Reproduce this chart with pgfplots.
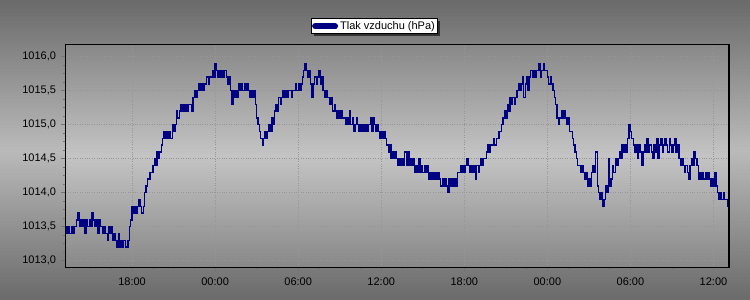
\documentclass[border=0pt]{standalone}
\usepackage{fontspec}
\setmainfont{Liberation Sans}
\usepackage{pgfplots}
\pgfplotsset{compat=1.18}
\usetikzlibrary{shadows}
\definecolor{navyline}{RGB}{0,0,130}
\definecolor{bgtop}{RGB}{106,106,106}
\definecolor{bgmid}{RGB}{186,186,186}
\definecolor{patop}{RGB}{136,136,136}
\definecolor{pamid}{RGB}{196,196,196}
\definecolor{gridc}{RGB}{150,150,150}
\begin{document}
\begin{tikzpicture}
\shade[top color=bgtop, bottom color=bgtop, middle color=bgmid] (0,0) rectangle (750pt,300pt);
\begin{axis}[
  at={(65.5pt,32.7pt)}, anchor=south west,
  scale only axis, width=663.5pt, height=223pt,
  xmin=-4.81, xmax=43.12, ymin=1012.903, ymax=1016.182,
  axis background/.style={shade, top color=patop, bottom color=patop, middle color=pamid},
  axis line style={black, line width=1.2pt},
  tick pos=left, tick align=outside,
  major tick length=4pt, minor tick length=2.5pt,
  tick style={color=black!55, line width=0.6pt},
  xtick={0,6,12,18,24,30,36,42},
  xticklabels={18:00,00:00,06:00,12:00,18:00,00:00,06:00,12:00},
  minor xtick={-4.5,-3,-1.5,1.5,3,4.5,7.5,9,10.5,13.5,15,16.5,19.5,21,22.5,25.5,27,28.5,31.5,33,34.5,37.5,39,40.5},
  ytick={1013.0,1013.5,1014.0,1014.5,1015.0,1015.5,1016.0},
  minor y tick num=3,
  grid=major,
  major grid style={dotted, color=gridc, line width=0.9pt},
  /pgf/number format/.cd, fixed, fixed zerofill, precision=1, use comma, 1000 sep={}, assume math mode=true,
  /pgfplots/.cd,
  ticklabel style={font=\fontsize{11}{13}\selectfont, text=black},
  yticklabel style={xshift=-2pt},
  xticklabel style={yshift=-3pt},
  legend style={at={(0.4657,1.082)}, anchor=center, draw=black, line width=0.8pt, fill=white,
    font=\fontsize{11}{13}\selectfont, inner xsep=1pt, inner ysep=0.5pt,
    drop shadow={shadow xshift=2.5pt, shadow yshift=-2.5pt, fill=black, opacity=0.6}},
  legend image code/.code={\draw[line width=6.5pt, line cap=round, navyline] (3.5pt,0pt) -- (23pt,0pt);},
  legend cell align=left,
]
\addplot[const plot, navyline, line width=1.3pt] coordinates {
(-4.8,1013.5)(-4.7,1013.4)(-4.6,1013.5)(-4.5,1013.4)(-4.4,1013.5)(-4.3,1013.4)(-4.2,1013.5)(-4.1,1013.5)(-4.0,1013.6)(-3.9,1013.7)
(-3.8,1013.5)(-3.7,1013.6)(-3.6,1013.5)(-3.5,1013.6)(-3.4,1013.4)(-3.3,1013.6)(-3.2,1013.5)(-3.1,1013.6)(-3.0,1013.5)(-2.9,1013.7)
(-2.8,1013.6)(-2.7,1013.5)(-2.6,1013.6)(-2.5,1013.4)(-2.4,1013.6)(-2.3,1013.5)(-2.2,1013.5)(-2.1,1013.4)(-2.0,1013.5)(-1.9,1013.4)
(-1.8,1013.3)(-1.7,1013.5)(-1.6,1013.4)(-1.5,1013.5)(-1.4,1013.3)(-1.3,1013.4)(-1.2,1013.3)(-1.1,1013.2)(-1.0,1013.4)(-0.9,1013.2)
(-0.8,1013.3)(-0.7,1013.2)(-0.6,1013.3)(-0.5,1013.2)(-0.4,1013.2)
(-0.3,1013.3)(-0.2,1013.5)(-0.1,1013.6)(0.0,1013.8)(0.1,1013.7)(0.2,1013.8)(0.3,1013.7)(0.4,1013.8)(0.5,1013.9)(0.6,1013.8)
(0.7,1013.7)(0.8,1013.8)(0.9,1014.0)(1.0,1014.1)(1.1,1014.2)(1.2,1014.2)(1.3,1014.3)(1.4,1014.3)(1.5,1014.4)(1.6,1014.5)
(1.7,1014.4)(1.8,1014.6)(1.9,1014.5)(2.0,1014.6)
(2.1,1014.7)(2.2,1014.8)(2.3,1014.9)(2.4,1014.8)(2.5,1014.9)(2.6,1014.8)(2.7,1014.9)(2.8,1014.8)(2.9,1015.0)(3.0,1014.9)
(3.1,1015.0)(3.2,1015.2)(3.3,1015.1)(3.4,1015.2)(3.5,1015.3)(3.6,1015.2)(3.7,1015.3)(3.8,1015.2)(3.9,1015.3)(4.0,1015.2)
(4.1,1015.3)(4.2,1015.3)(4.3,1015.2)(4.4,1015.4)(4.5,1015.5)(4.6,1015.4)(4.7,1015.5)(4.8,1015.6)(4.9,1015.5)(5.0,1015.6)
(5.1,1015.5)(5.2,1015.6)(5.3,1015.6)(5.4,1015.7)(5.5,1015.6)(5.6,1015.7)(5.7,1015.7)(5.8,1015.8)(5.9,1015.7)(6.0,1015.9)
(6.1,1015.8)(6.2,1015.7)(6.3,1015.8)(6.4,1015.7)(6.5,1015.8)(6.6,1015.7)(6.7,1015.8)(6.8,1015.7)(6.9,1015.6)(7.0,1015.7)
(7.1,1015.5)(7.2,1015.3)(7.3,1015.5)(7.4,1015.4)(7.5,1015.5)(7.6,1015.4)(7.7,1015.6)(7.8,1015.5)(7.9,1015.6)(8.0,1015.5)
(8.1,1015.6)(8.2,1015.5)(8.3,1015.6)(8.4,1015.5)(8.5,1015.4)(8.6,1015.5)(8.7,1015.4)(8.8,1015.5)
(8.9,1015.3)(9.0,1015.1)(9.1,1015.0)(9.2,1014.9)(9.3,1014.8)(9.4,1014.7)(9.5,1014.8)(9.6,1014.9)(9.7,1014.8)(9.8,1014.9)
(9.9,1015.0)(10.0,1014.9)(10.1,1015.1)(10.2,1015.0)(10.3,1015.2)(10.4,1015.3)(10.5,1015.2)(10.6,1015.4)(10.7,1015.3)(10.8,1015.4)
(10.9,1015.5)(11.0,1015.4)(11.1,1015.5)(11.2,1015.4)(11.3,1015.5)(11.4,1015.5)(11.5,1015.4)(11.6,1015.5)(11.7,1015.5)(11.8,1015.6)
(11.9,1015.5)(12.0,1015.6)(12.1,1015.5)(12.2,1015.6)(12.3,1015.7)(12.4,1015.8)(12.5,1015.9)(12.6,1015.8)(12.7,1015.7)(12.8,1015.8)
(12.9,1015.6)(13.0,1015.4)(13.1,1015.6)(13.2,1015.7)(13.3,1015.6)(13.4,1015.7)(13.5,1015.8)(13.6,1015.6)(13.7,1015.7)(13.8,1015.5)
(13.9,1015.4)(14.0,1015.5)(14.1,1015.4)(14.2,1015.4)(14.3,1015.3)(14.4,1015.4)(14.5,1015.2)(14.6,1015.3)(14.7,1015.2)(14.8,1015.1)
(14.9,1015.2)(15.0,1015.1)(15.1,1015.2)(15.2,1015.1)(15.3,1015.1)(15.4,1015.0)(15.5,1015.1)(15.6,1015.0)(15.7,1015.2)(15.8,1015.0)
(15.9,1015.1)(16.0,1014.9)(16.1,1015.0)(16.2,1015.1)(16.3,1015.0)
(16.4,1014.9)(16.5,1015.0)(16.6,1014.9)(16.7,1015.0)(16.8,1014.9)(16.9,1015.0)(17.0,1014.9)(17.1,1015.0)(17.2,1015.1)(17.3,1014.9)
(17.4,1015.1)(17.5,1015.0)(17.6,1014.9)(17.7,1015.0)(17.8,1014.9)(17.9,1014.8)(18.0,1014.9)(18.1,1014.8)(18.2,1014.9)(18.3,1014.8)
(18.4,1014.7)(18.5,1014.6)(18.6,1014.7)(18.7,1014.5)(18.8,1014.6)(18.9,1014.5)(19.0,1014.6)(19.1,1014.5)(19.2,1014.4)(19.3,1014.5)
(19.4,1014.4)(19.5,1014.5)(19.6,1014.4)(19.7,1014.6)(19.8,1014.4)(19.9,1014.6)(20.0,1014.4)(20.1,1014.5)(20.2,1014.4)(20.3,1014.5)
(20.4,1014.3)(20.5,1014.4)(20.6,1014.3)(20.7,1014.5)(20.8,1014.3)(20.9,1014.4)(21.0,1014.3)(21.1,1014.4)(21.2,1014.3)(21.3,1014.4)
(21.4,1014.2)(21.5,1014.3)(21.6,1014.2)(21.7,1014.3)(21.8,1014.2)(21.9,1014.3)(22.0,1014.2)(22.1,1014.3)(22.2,1014.2)(22.3,1014.1)
(22.4,1014.2)(22.5,1014.1)(22.6,1014.2)(22.7,1014.1)(22.8,1014.0)(22.9,1014.2)(23.0,1014.1)(23.1,1014.2)(23.2,1014.1)(23.3,1014.2)
(23.4,1014.1)(23.5,1014.3)(23.6,1014.3)(23.7,1014.4)(23.8,1014.3)(23.9,1014.4)(24.0,1014.3)(24.1,1014.4)(24.2,1014.5)(24.3,1014.4)
(24.4,1014.3)(24.5,1014.4)(24.6,1014.3)(24.7,1014.4)(24.8,1014.2)(24.9,1014.4)(25.0,1014.3)(25.1,1014.4)(25.2,1014.5)(25.3,1014.4)
(25.4,1014.5)(25.5,1014.5)(25.6,1014.6)(25.7,1014.7)(25.8,1014.6)(25.9,1014.7)(26.0,1014.7)(26.1,1014.8)(26.2,1014.7)(26.3,1014.8)
(26.4,1014.8)(26.5,1014.9)(26.6,1014.9)(26.7,1015.0)
(26.8,1015.1)(26.9,1015.2)(27.0,1015.1)(27.1,1015.3)(27.2,1015.2)(27.3,1015.4)(27.4,1015.3)(27.5,1015.4)(27.6,1015.3)(27.7,1015.4)
(27.8,1015.5)(27.9,1015.6)(28.0,1015.5)(28.1,1015.6)(28.2,1015.7)(28.3,1015.4)(28.4,1015.6)(28.5,1015.7)(28.6,1015.5)(28.7,1015.7)
(28.8,1015.8)(28.9,1015.7)(29.0,1015.8)(29.1,1015.7)(29.2,1015.8)(29.3,1015.8)(29.4,1015.9)(29.5,1015.7)(29.6,1015.8)(29.7,1015.9)
(29.8,1015.8)(29.9,1015.8)(30.0,1015.7)(30.1,1015.6)(30.2,1015.7)(30.3,1015.6)(30.4,1015.5)(30.5,1015.4)(30.6,1015.3)(30.7,1015.1)
(30.8,1015.0)(30.9,1015.1)(31.0,1015.2)(31.1,1015.1)(31.2,1015.2)(31.3,1015.1)(31.4,1015.0)(31.5,1015.1)(31.6,1014.9)(31.7,1014.9)
(31.8,1014.8)(31.9,1014.7)(32.0,1014.6)(32.1,1014.5)(32.2,1014.4)(32.3,1014.4)(32.4,1014.3)(32.5,1014.4)(32.6,1014.3)(32.7,1014.2)
(32.8,1014.3)(32.9,1014.1)(33.0,1014.2)(33.1,1014.1)(33.2,1014.3)(33.3,1014.4)(33.4,1014.3)(33.5,1014.6)
(33.6,1014.1)(33.7,1014.0)(33.8,1013.9)(33.9,1014.0)(34.0,1013.8)(34.1,1013.9)(34.2,1014.1)(34.3,1014.0)(34.4,1014.5)(34.5,1014.1)
(34.6,1014.2)(34.7,1014.4)(34.8,1014.3)(34.9,1014.5)(35.0,1014.4)(35.1,1014.5)(35.2,1014.6)(35.3,1014.5)(35.4,1014.7)(35.5,1014.6)
(35.6,1014.7)(35.7,1014.6)(35.8,1014.8)(35.9,1015.0)(36.0,1014.9)(36.1,1014.8)(36.2,1014.7)(36.3,1014.6)(36.4,1014.7)(36.5,1014.5)
(36.6,1014.7)(36.7,1014.6)(36.8,1014.4)(36.9,1014.6)(37.0,1014.7)(37.1,1014.6)(37.2,1014.8)(37.3,1014.6)(37.4,1014.7)(37.5,1014.6)
(37.6,1014.5)(37.7,1014.7)(37.8,1014.6)(37.9,1014.8)(38.0,1014.5)(38.1,1014.7)(38.2,1014.8)(38.3,1014.6)(38.4,1014.7)(38.5,1014.8)
(38.6,1014.7)(38.7,1014.6)(38.8,1014.8)(38.9,1014.7)(39.0,1014.6)(39.1,1014.7)(39.2,1014.8)(39.3,1014.6)(39.4,1014.7)(39.5,1014.5)
(39.6,1014.4)(39.7,1014.5)(39.8,1014.4)(39.9,1014.3)(40.0,1014.4)(40.1,1014.3)(40.2,1014.2)(40.3,1014.4)(40.4,1014.5)(40.5,1014.4)
(40.6,1014.6)(40.7,1014.5)(40.8,1014.4)(40.9,1014.2)(41.0,1014.3)(41.1,1014.2)(41.2,1014.3)(41.3,1014.2)(41.4,1014.3)(41.5,1014.2)
(41.6,1014.3)(41.7,1014.2)(41.8,1014.1)(41.9,1014.2)(42.0,1014.1)(42.1,1014.3)(42.2,1014.1)(42.3,1014.0)(42.4,1013.9)(42.5,1014.0)
(42.6,1013.9)(42.7,1014.0)(42.8,1013.9)(42.9,1013.9)(43.0,1013.8)(43.1,1013.8)
};
\addlegendentry{Tlak vzduchu (hPa)}
\end{axis}
\pgfresetboundingbox
\path (0,0) rectangle (750pt,300pt);
\end{tikzpicture}
\end{document}
